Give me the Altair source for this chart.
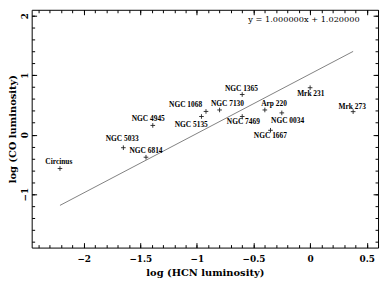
import altair as alt
import pandas as pd

# ---- data ----
names = ["Circinus", "NGC 5033", "NGC 6814", "NGC 4945", "NGC 5135", "NGC 1068",
         "NGC 7130", "NGC 1365", "NGC 7469", "Arp 220", "NGC 0034", "NGC 1667",
         "Mrk 231", "Mrk 273"]
log_hcn = [-2.21, -1.65, -1.45, -1.39, -0.96, -0.92, -0.80, -0.60, -0.60, -0.40,
           -0.25, -0.35, 0.00, 0.38]
log_co = [-0.57, -0.22, -0.38, 0.155, 0.305, 0.39, 0.415, 0.675, 0.305, 0.415,
          0.366, 0.073, 0.789, 0.387]
label_x = [-2.22, -1.66, -1.45, -1.43, -1.05, -1.10, -0.73, -0.607, -0.59, -0.319,
           -0.199, -0.351, 0.006, 0.372]
label_y = [-0.46, -0.08, -0.27, 0.27, 0.16, 0.49, 0.51, 0.77, 0.21, 0.52,
           0.231, -0.029, 0.675, 0.468]

fit_slope = 1.0
fit_intercept = 1.02
eq_text = "y = 1.000000x + 1.020000"
eq_pos_x = [-0.054]
eq_pos_y = [1.92]

x_major = [-2, -1.5, -1, -0.5, 0, 0.5]
x_minor = [round(-2.4 + 0.1 * i, 2) for i in range(31)]
y_major = [-1, 0, 1, 2]
y_minor = [round(-1.8 + 0.2 * i, 2) for i in range(20)]

pts = pd.DataFrame({"name": names, "log_hcn": log_hcn, "log_co": log_co,
                    "lx": label_x, "ly": label_y})
xs = [min(log_hcn), max(log_hcn)]
fit = pd.DataFrame({"fx": xs, "fy": [fit_slope * v + fit_intercept for v in xs]})
eq = pd.DataFrame({"ex": eq_pos_x, "ey": eq_pos_y, "t": [eq_text]})

xscale = alt.Scale(domain=[-2.46, 0.6], nice=False, zero=False)
yscale = alt.Scale(domain=[-1.9, 2.1], nice=False, zero=False)

FONT = "DejaVu Serif"


def ax(orient, values, size, labels=False, title=None, **kw):
    args = dict(orient=orient, values=values, tickSize=size, offset=-size,
                domain=False, grid=False, labels=labels, ticks=True,
                tickColor="black", tickWidth=1)
    args["title"] = title if title is not None else None
    args.update(kw)
    return alt.Axis(**args)


lab_kw = dict(labelFont=FONT, labelFontWeight="bold", labelFontSize=9,
              labelColor="black", labelFlush=False, labelOverlap=False,
              format="~g",
              titleFont=FONT, titleFontWeight="bold", titleFontSize=10,
              titleColor="black")

points = alt.Chart(pts).mark_point(
    shape="M-1,0L1,0M0,-1L0,1", size=22, stroke="#222", strokeWidth=0.9,
    filled=False, opacity=1
).encode(
    x=alt.X("log_hcn:Q", scale=xscale,
            axis=ax("bottom", x_major, 5, labels=True, title="log (HCN luminosity)",
                    labelPadding=7, titlePadding=4, **lab_kw)),
    y=alt.Y("log_co:Q", scale=yscale,
            axis=ax("left", y_major, 5, labels=True, title="log (CO luminosity)",
                    labelAngle=270, labelPadding=2, titlePadding=3, **lab_kw)),
)

labels = alt.Chart(pts).mark_text(
    font="Liberation Serif", fontWeight="bold", fontSize=7.5, color="black",
    align="center", baseline="middle"
).encode(
    x=alt.X("lx:Q", scale=xscale, axis=ax("bottom", x_minor, 3)),
    y=alt.Y("ly:Q", scale=yscale, axis=ax("left", y_minor, 3)),
    text="name:N",
)

line = alt.Chart(fit).mark_line(color="#808080", strokeWidth=1).encode(
    x=alt.X("fx:Q", scale=xscale, axis=ax("top", x_major, 5)),
    y=alt.Y("fy:Q", scale=yscale, axis=ax("right", y_major, 5)),
)

eqn = alt.Chart(eq).mark_text(
    font=FONT, fontSize=8.3, color="black", align="center", baseline="middle"
).encode(
    x=alt.X("ex:Q", scale=xscale, axis=ax("top", x_minor, 3)),
    y=alt.Y("ey:Q", scale=yscale, axis=ax("right", y_minor, 3)),
    text="t:N",
)

chart = alt.layer(line, points, labels, eqn).resolve_axis(
    x="independent", y="independent"
).properties(
    width=351, height=241,
    autosize=alt.AutoSizeParams(type="none"),
    padding={"left": 24, "top": 0, "right": 2, "bottom": 29},
    background="white",
).configure_view(stroke="black", strokeWidth=1)

chart.save("out.html", embed_options={"renderer": "svg", "actions": False})
